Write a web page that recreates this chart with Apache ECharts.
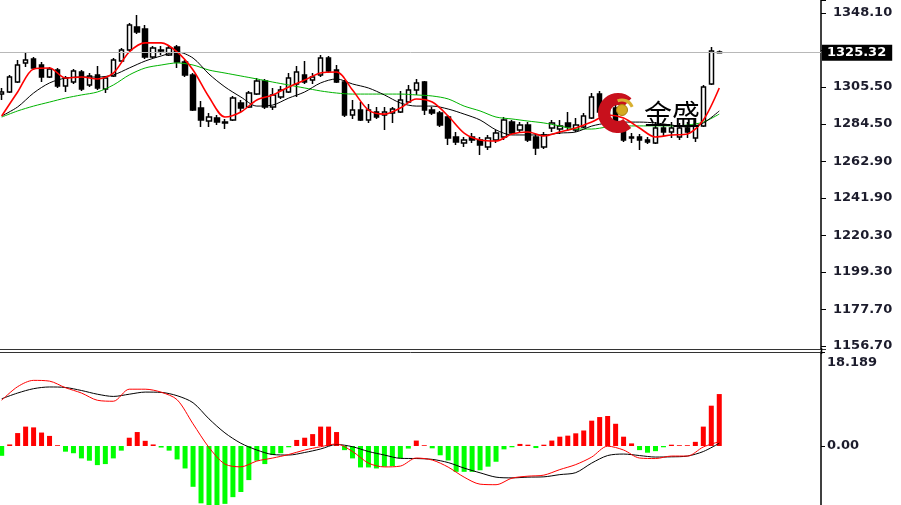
<!DOCTYPE html>
<html><head><meta charset="utf-8">
<script src="https://cdn.jsdelivr.net/npm/echarts@6/dist/echarts.min.js"></script>
<style>html,body{margin:0;padding:0;background:#fff}#main{width:901px;height:505px}</style>
</head><body><div id="main"></div>
<script>
// ---- price candles (index 0..90) ----
const opens = [1301.5,1302.7,1308.4,1319.4,1321.7,1318.2,1311.3,1315.3,1306.1,1308.4,
1314.2,1306.7,1312.5,1304.4,1311.9,1320.5,1326.8,1340.1,1338.9,1322.8,
1326.3,1324.0,1328.6,1319.9,1312.5,1293.5,1286.0,1287.7,1285.4,1286.6,
1296.4,1294.1,1301.5,1309.0,1294.1,1299.8,1302.7,1307.3,1312.5,1309.6,
1312.5,1322.2,1315.3,1308.4,1289.5,1292.3,1286.6,1291.2,1289.5,1290.6,
1291.2,1296.9,1303.8,1308.4,1292.3,1290.6,1288.3,1276.8,1273.4,1276.8,
1275.1,1271.1,1275.1,1276.8,1285.4,1280.9,1283.7,1276.8,1271.1,1282.0,
1281.4,1284.9,1280.9,1282.6,1287.7,1301.5,1292.3,1293.5,1280.9,1276.8,
1276.8,1275.1,1273.4,1282.0,1279.7,1276.8,1282.0,1276.3,1283.2,1307.3,
1325.7];
const closes = [1302.7,1311.3,1318.2,1321.1,1316.5,1311.3,1315.9,1306.1,1310.7,1314.8,
1304.4,1311.9,1305.0,1310.7,1321.1,1326.8,1341.2,1337.2,1322.8,1328.0,
1326.8,1328.0,1319.9,1312.5,1292.3,1286.6,1288.3,1285.4,1284.9,1299.2,
1293.5,1302.1,1309.0,1294.1,1301.0,1303.8,1310.7,1314.2,1308.4,1311.3,
1322.2,1314.8,1308.4,1289.5,1292.3,1286.6,1292.3,1288.3,1291.2,1292.9,
1298.1,1303.8,1307.9,1292.3,1290.6,1283.7,1276.3,1274.0,1275.1,1275.1,
1272.2,1276.3,1279.1,1286.6,1279.1,1283.7,1275.1,1270.5,1278.0,1284.9,
1283.2,1282.6,1283.7,1288.9,1299.8,1291.2,1289.5,1282.0,1275.1,1276.3,
1275.1,1274.0,1282.0,1279.7,1282.0,1282.0,1279.7,1283.2,1305.6,1326.3,
1325.32];
const lows = [1298.1,1302.1,1307.9,1317.1,1315.3,1308.4,1310.7,1305.0,1302.7,1307.3,
1303.3,1305.6,1303.8,1302.1,1311.3,1319.9,1326.3,1336.0,1321.7,1322.2,
1324.0,1323.4,1316.5,1311.3,1291.8,1282.6,1282.6,1283.7,1281.4,1286.0,
1291.2,1293.5,1301.0,1292.9,1292.3,1298.7,1302.1,1299.8,1307.3,1307.3,
1311.3,1313.6,1307.9,1288.3,1287.2,1286.0,1284.9,1287.2,1280.9,1284.9,
1290.6,1296.4,1301.0,1289.5,1289.5,1282.6,1272.2,1272.2,1271.1,1273.4,
1266.5,1269.4,1273.4,1275.1,1278.6,1279.1,1274.0,1266.5,1269.9,1279.7,
1278.6,1280.3,1279.7,1282.0,1287.2,1290.0,1287.7,1281.4,1274.0,1273.4,
1269.4,1272.8,1272.8,1277.4,1276.3,1275.1,1276.3,1274.0,1282.6,1306.7,
1324.8];
const highs = [1305.0,1312.5,1321.1,1325.7,1322.8,1319.9,1317.1,1316.5,1311.9,1315.9,
1315.3,1313.6,1317.6,1311.9,1322.2,1328.0,1342.4,1347.0,1341.2,1329.1,
1329.1,1329.7,1329.7,1321.1,1313.6,1297.5,1290.6,1289.5,1287.2,1300.4,
1298.1,1303.3,1310.7,1310.2,1305.0,1306.1,1313.6,1317.6,1320.5,1313.6,
1324.0,1323.4,1318.2,1309.6,1298.1,1296.9,1295.8,1294.1,1294.1,1294.1,
1303.3,1306.7,1310.2,1309.0,1294.1,1291.8,1289.5,1279.7,1276.8,1279.1,
1276.8,1278.0,1280.9,1288.3,1286.6,1285.4,1285.4,1278.6,1279.7,1286.6,
1286.6,1291.2,1287.7,1290.6,1302.1,1303.3,1295.2,1296.4,1282.0,1279.1,
1278.6,1276.8,1285.4,1284.3,1285.4,1284.9,1285.4,1287.7,1306.7,1328.6,
1326.5];

// ---- moving averages, read at every second bar ----
const maIdx = [0,2,4,6,8,10,12,14,16,18,20,22,24,26,28,30,32,34,36,38,40,42,44,46,48,50,52,54,56,58,60,62,64,66,68,70,72,74,76,78,80,82,84,86,88,90];
const maRed = [1288.9,1302.7,1315.9,1316.5,1310.7,1311.3,1310.2,1313.6,1325.7,1330.9,1330.9,1325.7,1315.3,1299.8,1288.3,1291.2,1298.1,1301.0,1305.6,1309.6,1313.6,1314.2,1303.8,1292.3,1290.0,1293.5,1298.7,1296.9,1288.9,1279.1,1275.1,1274.5,1278.6,1279.7,1277.4,1279.7,1282.0,1285.4,1289.5,1287.7,1282.0,1276.8,1278.0,1278.6,1286.6,1305.0];
const maBlack = [1288.9,1294.1,1302.1,1307.9,1310.7,1311.3,1311.3,1312.5,1316.5,1320.5,1323.4,1325.7,1322.2,1313.0,1305.6,1299.8,1294.6,1295.2,1299.2,1302.7,1307.9,1310.2,1307.3,1305.0,1301.0,1296.4,1294.6,1294.6,1292.9,1290.0,1286.6,1280.9,1278.0,1278.0,1278.0,1279.1,1279.7,1283.1,1284.9,1285.4,1285.4,1284.9,1283.7,1282.6,1284.9,1291.8];
const maGreen = [1288.3,1291.8,1294.6,1296.9,1299.2,1301.0,1302.7,1306.7,1312.5,1316.5,1318.2,1319.4,1318.2,1315.3,1313.6,1311.9,1310.2,1308.4,1306.7,1305.0,1303.3,1302.1,1301.5,1301.5,1301.5,1301.5,1301.0,1300.4,1298.7,1294.6,1291.8,1288.3,1287.2,1286.0,1284.9,1283.2,1281.4,1281.4,1282.6,1283.2,1283.2,1283.2,1283.2,1283.7,1285.4,1290.0];

// ---- MACD pane ----
const macdHist = [-1.9,0.3,2.5,3.75,3.6,2.6,1.95,0.15,-1.1,-1.4,
-2.4,-2.85,-3.7,-3.5,-2.4,-0.9,1.6,2.7,1.0,0.3,
-0.3,-0.9,-2.6,-4.35,-7.9,-11.1,-12.5,-12.5,-11.2,-9.9,
-8.9,-6.6,-2.85,-3.5,-1.75,-1.4,-0.25,1.17,1.6,2.3,
3.75,3.75,2.7,-0.8,-2.4,-4.15,-4.15,-4.35,-4.0,-3.9,
-2.4,-0.5,1.05,0.15,-0.45,-1.8,-2.8,-5.0,-5.0,-5.0,
-4.7,-4.0,-3.05,-0.65,-0.25,0.4,0.25,-0.4,0.25,1.05,
1.8,2.0,2.45,3.0,4.9,5.6,5.8,4.3,1.8,0.5,
-0.8,-1.3,-1.0,-0.25,0.25,0.15,0.15,0.8,3.75,7.8,
10.05];
const macdRed = [8.85,11.48,12.7,12.55,11.28,10.25,8.85,8.66,10.99,10.99,10.41,8.95,4.28,-0.29,-3.5,-4.03,-2.92,-2.33,-1.65,-0.78,-0.14,0.39,-1.07,-3.31,-4.05,-3.89,-2.33,-2.72,-4.09,-6.03,-7.39,-7.49,-6.23,-5.84,-5.64,-4.57,-3.6,-2.14,-0.04,-0.78,-2.33,-2.43,-1.95,-1.95,-0.19,0.84];
const macdBlack = [9.14,10.25,11.09,11.42,11.32,10.74,10.02,9.59,10.02,10.43,10.37,9.73,8.37,5.25,2.53,0.53,-0.78,-1.65,-1.75,-1.26,-0.58,0.29,-0.14,-1.07,-1.75,-2.39,-2.43,-2.59,-3.21,-4.28,-5.19,-6.03,-6.17,-6.03,-5.97,-5.54,-5.16,-3.31,-1.85,-1.56,-1.85,-2.14,-2.10,-1.95,-1.07,0.53];

// ---- axis labels ----
const priceTicks = [1156.70,1177.70,1199.30,1220.30,1241.90,1262.90,1284.50,1305.50,1348.10];
const lastPrice = 1325.32;
const macdMax = 18.189;

// price-axis extent and its evenly spaced tick grid (tick step in price units)
const priceMin = 1154.98, priceMax = 1355.57, tickBase = 1156.70, tickStep = 21.2667;
const macdMin = -11.42;

const candleData = opens.map((o, i) => [i, o, closes[i], lows[i], highs[i]]);
const pair = (arr) => arr.map((v, k) => [maIdx[k], v]);

const FONT = 'DejaVu Sans';
const LBL = '#1c1c2c';
const chart = echarts.init(document.getElementById('main'));
chart.setOption({
  animation: false,
  backgroundColor: '#ffffff',
  grid: [
    {left: 0, top: 0, width: 821, height: 349},
    {left: 0, top: 352, width: 821, height: 153}
  ],
  xAxis: [
    {type: 'value', gridIndex: 0, min: -0.213, max: 102.76, show: false, axisLine: {onZero: false}},
    {type: 'value', gridIndex: 1, min: -0.213, max: 102.76, show: false, axisLine: {onZero: false}}
  ],
  yAxis: [
    {type: 'value', gridIndex: 0, position: 'right', min: priceMin, max: priceMax,
     splitLine: {show: false},
     axisLine: {show: true, onZero: false, lineStyle: {color: '#000', width: 1.5}},
     axisTick: {show: false},
     axisLabel: {customValues: priceTicks, formatter: v => v.toFixed(2), color: LBL,
       fontFamily: FONT, fontSize: 13, fontWeight: 'bold', margin: 12}},
    {type: 'value', gridIndex: 1, position: 'right', min: macdMin, max: macdMax,
     splitLine: {show: false},
     axisLine: {show: true, onZero: false, lineStyle: {color: '#000', width: 1.5}},
     axisTick: {show: false},
     axisLabel: {customValues: [0, macdMax], margin: 6, color: LBL,
       fontFamily: FONT, fontSize: 13, fontWeight: 'bold',
       formatter: v => v === 0 ? '0.00' : '{mx|' + macdMax.toFixed(3) + '}',
       rich: {mx: {padding: [22, 0, 0, 0], color: LBL, fontFamily: FONT, fontSize: 13, fontWeight: 'bold'}}}},
    // tick-only helper axes (ticks in "tick step" units)
    {type: 'value', gridIndex: 0, position: 'right',
     min: (priceMin - tickBase) / tickStep, max: (priceMax - tickBase) / tickStep, splitNumber: 9,
     splitLine: {show: false}, axisLabel: {show: false}, axisLine: {show: false, onZero: false},
     axisTick: {show: true, length: 5, lineStyle: {color: '#000', width: 1}}},
    {type: 'value', gridIndex: 1, position: 'right',
     min: macdMin / macdMax, max: 1, splitNumber: 1,
     splitLine: {show: false}, axisLabel: {show: false}, axisLine: {show: false, onZero: false},
     axisTick: {show: true, length: 4, lineStyle: {color: '#000', width: 1}}}
  ],
  series: [
    {type: 'candlestick', xAxisIndex: 0, yAxisIndex: 0,
     dimensions: ['idx', 'open', 'close', 'lowest', 'highest'],
     encode: {x: 'idx', y: ['open', 'close', 'lowest', 'highest']},
     data: candleData, barWidth: 5,
     itemStyle: {color: '#ffffff', color0: '#000000', borderColor: '#000000', borderColor0: '#000000', borderWidth: 1.5},
     markLine: {silent: true, symbol: ['none', 'none'], z: 10,
       lineStyle: {color: '#b8b8b8', type: 'solid', width: 1},
       label: {show: true, position: 'end', distance: 1, formatter: lastPrice.toFixed(2),
         backgroundColor: '#000', color: '#fff', fontFamily: FONT, fontSize: 13, fontWeight: 'bold', padding: [2, 6, 1, 5]},
       data: [{yAxis: lastPrice}]}},
    {type: 'line', xAxisIndex: 0, yAxisIndex: 0, data: pair(maGreen), showSymbol: false, smooth: 0.3,
     lineStyle: {color: '#00b400', width: 1}},
    {type: 'line', xAxisIndex: 0, yAxisIndex: 0, data: pair(maBlack), showSymbol: false, smooth: 0.3,
     lineStyle: {color: '#000000', width: 1}},
    {type: 'line', xAxisIndex: 0, yAxisIndex: 0, data: pair(maRed), showSymbol: false, smooth: 0.3,
     lineStyle: {color: '#ff0000', width: 1.6}},
    {type: 'bar', xAxisIndex: 1, yAxisIndex: 1, data: macdHist.map((v, i) => [i, v]), barWidth: 5,
     itemStyle: {color: p => p.value[1] >= 0 ? '#ff0000' : '#00ff00'}},
    {type: 'line', xAxisIndex: 1, yAxisIndex: 1, data: pair(macdBlack), showSymbol: false, smooth: 0.3,
     lineStyle: {color: '#000000', width: 1}},
    {type: 'line', xAxisIndex: 1, yAxisIndex: 1, data: pair(macdRed), showSymbol: false, smooth: 0.3,
     lineStyle: {color: '#ff0000', width: 1}}
  ],
  graphic: [
    {type: 'line', z: 50, shape: {x1: 0, y1: 349.5, x2: 826, y2: 349.5}, style: {stroke: '#333', lineWidth: 1}},
    {type: 'line', z: 50, shape: {x1: 0, y1: 352.5, x2: 821, y2: 352.5}, style: {stroke: '#333', lineWidth: 1}},
    {type: 'line', z: 50, shape: {x1: 821.5, y1: 348, x2: 821.5, y2: 354}, style: {stroke: '#000', lineWidth: 1.5}},
    {type: 'arc', z: 100, shape: {cx: 618, cy: 113, r: 14, startAngle: 0.85, endAngle: 5.45, clockwise: true},
     style: {fill: null, stroke: '#c8101c', lineWidth: 12}},
    {type: 'arc', z: 101, shape: {cx: 622, cy: 111, r: 11, startAngle: 4.3, endAngle: 5.9, clockwise: true},
     style: {fill: null, stroke: '#d8b030', lineWidth: 3}},
    {type: 'circle', z: 102, shape: {cx: 622, cy: 110, r: 5.5},
     style: {fill: '#d4aa22', stroke: '#a88010', lineWidth: 1}},
    {type: 'text', z: 103, x: 644, y: 114,
     style: {text: '金盛', fill: '#000', font: '28px "Noto Sans CJK SC"', verticalAlign: 'middle', align: 'left'}}
  ]
});
</script></body></html>
